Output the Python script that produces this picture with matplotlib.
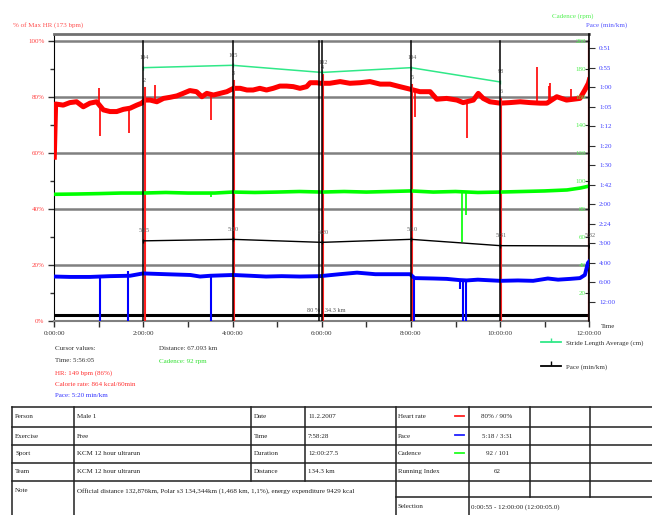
'''Polar style exercise chart: HR, pace, cadence and lap averages
'''
import matplotlib
matplotlib.use('Agg')
import matplotlib.pyplot as plt
from matplotlib import font_manager

# ---- data ----
# heart rate trace, hours / % of max HR
hr_t = [0.00, 0.03, 0.20, 0.35, 0.50, 0.65, 0.80, 0.95, 1.10, 1.25, 1.40, 1.55, 1.70, 1.85,
        1.96, 2.03, 2.15, 2.30, 2.45, 2.60, 2.75, 2.89, 3.04, 3.19, 3.31, 3.42, 3.57, 3.72,
        3.87, 4.02, 4.17, 4.32, 4.46, 4.61, 4.76, 4.91, 5.06, 5.21, 5.36, 5.51, 5.66, 5.74,
        5.89, 5.96, 6.18, 6.41, 6.63, 6.86, 7.08, 7.31, 7.53, 7.75, 7.98, 8.20, 8.43, 8.58,
        8.80, 9.03, 9.17, 9.40, 9.51, 9.62, 9.77, 10.00, 10.22, 10.45, 10.67, 10.90, 11.05,
        11.27, 11.49, 11.64, 11.79, 11.90, 11.98, 12.00]
hr_pct = [58.5, 77.5, 77.1, 78.0, 78.3, 76.5, 77.8, 78.3, 75.4, 74.8, 74.8, 75.6, 76.0, 77.1,
          77.8, 78.9, 78.9, 78.3, 79.5, 79.9, 80.4, 81.3, 82.3, 81.9, 80.1, 81.3, 80.7, 81.3,
          81.9, 83.1, 83.1, 82.5, 82.5, 83.1, 82.5, 83.1, 83.9, 83.9, 83.7, 83.1, 83.7, 85.1,
          85.1, 84.9, 84.9, 85.5, 84.9, 85.1, 85.5, 84.6, 84.6, 83.7, 82.8, 81.9, 81.9, 79.2,
          79.5, 78.9, 78.0, 78.9, 81.3, 79.5, 78.3, 77.8, 78.0, 78.3, 78.0, 77.8, 77.8,
          80.1, 78.9, 79.2, 79.5, 82.5, 84.9, 86.1]
# single-sample spikes on the HR trace: time, level they leave from, level they reach
hr_spike_t = [1.00, 1.02, 1.67, 2.26, 3.51, 8.09, 9.25, 10.82, 11.10, 11.12, 11.60]
hr_spike_from = [78.0, 77.0, 75.8, 79.0, 81.0, 82.5, 78.2, 78.0, 77.8, 77.9, 79.0]
hr_spike_to = [83.1, 66.1, 67.3, 84.3, 71.8, 73.0, 65.3, 90.8, 84.0, 85.0, 83.0]

# cadence, hours / rpm
cad_t = [0.0, 0.5, 1.0, 1.5, 2.0, 2.5, 3.0, 3.45, 3.6, 4.0, 4.5, 5.0, 5.5, 6.0, 6.5, 7.0,
         7.5, 8.0, 8.5, 9.0, 9.5, 10.0, 10.5, 11.0, 11.5, 11.8, 12.0]
cad_rpm = [90.5, 90.7, 91.0, 91.4, 91.4, 91.8, 91.4, 91.4, 91.4, 92.1, 91.8, 92.1, 92.5,
           92.1, 92.5, 92.1, 92.5, 92.9, 92.1, 92.5, 91.8, 92.1, 92.5, 92.9, 93.6, 95.0, 96.4]
cad_spike_t = [3.52, 9.14, 9.24]
cad_spike_from = [91.4, 92.1, 92.1]
cad_spike_to = [88.5, 56.5, 76.0]

# speed behind the pace trace, hours / km/h
sp_t = [0.0, 0.35, 0.8, 1.25, 1.70, 1.99, 2.5, 3.05, 3.27, 3.50, 4.01, 4.4, 4.75, 5.1, 5.51,
        5.96, 6.4, 6.79, 7.2, 7.53, 7.98, 8.08, 8.5, 8.8, 9.08, 9.25, 9.5, 10.0, 10.4, 10.74,
        11.07, 11.3, 11.57, 11.79, 11.9, 11.97, 12.0]
sp_kmh = [11.4, 11.3, 11.3, 11.5, 11.6, 12.2, 12.0, 11.8, 11.4, 11.6, 11.8, 11.6, 11.4, 11.5,
          11.4, 11.5, 12.0, 12.4, 12.0, 12.0, 12.0, 11.0, 10.9, 10.8, 10.5, 10.4, 10.6, 10.3,
          10.4, 10.3, 10.9, 10.6, 10.8, 11.0, 11.8, 14.9, 15.3]
sp_spike_t = [1.025, 1.645, 1.66, 3.515, 8.06, 9.10, 9.17, 9.235]
sp_spike_from = [11.3, 11.5, 11.5, 11.6, 11.2, 10.5, 10.5, 10.4]
sp_spike_to = [0.0, 0.0, 12.9, 0.0, 0.0, 8.2, 0.0, 0.0]

# laps
lap_t = [2.0, 4.0, 6.0, 8.0, 10.0]
lap_no = ['2', '3', '4', '5', '6']
lap_marker_pct = [83.2, 85.7, 87.9, 84.3, 79.3]
stride_cm = [104, 105, 102, 104, 98]
lap_pace_t = [2.0, 4.0, 6.0, 8.0, 10.0, 12.0]
lap_pace_s = [315, 310, 320, 310, 331, 332]
cursor_t = 5 + 56 / 60 + 5 / 3600

hr_ticks = [0, 20, 40, 60, 80, 100]
cad_ticks = [20, 40, 60, 80, 100, 120, 140, 160, 180, 200]
speed_ticks = [5, 10, 15, 20, 25, 30, 35, 40, 45, 50, 55, 60, 65, 70]
time_ticks = [0, 2, 4, 6, 8, 10, 12]

cursor_left = ['Cursor values:', 'Time: 5:56:05', 'HR: 149 bpm (86%)',
               'Calorie rate: 864 kcal/60min', 'Pace: 5:20 min/km']
cursor_left_col = ['#303030', '#303030', '#ff3030', '#ff3030', '#3030ff']
cursor_right = ['Distance: 67.093 km', 'Cadence: 92 rpm']
cursor_right_col = ['#303030', '#30e030']

tbl_a = ['Person', 'Exercise', 'Sport', 'Team']
tbl_b = ['Male 1', 'Free', 'KCM 12 hour ultrarun', 'KCM 12 hour ultrarun']
tbl_c = ['Date', 'Time', 'Duration', 'Distance']
tbl_d = ['11.2.2007', '7:58:28', '12:00:27.5', '134.3 km']
tbl_e = ['Heart rate', 'Pace', 'Cadence', 'Running Index']
tbl_f = ['80% / 90%', '5:18 / 3:31', '92 / 101', '62']
tbl_dash = ['#ff2020', '#2020ff', '#20ff20', None]
note_text = ('Official distance 132,876km, Polar s3 134,344km (1,468 km, 1,1%), '
             'energy expenditure 9429 kcal')
selection_text = '0:00:55 - 12:00:00 (12:00:05.0)'

# ---- style ----
names = {f.name for f in font_manager.fontManager.ttflist}
FONT = 'Liberation Sans Narrow' if 'Liberation Sans Narrow' in names else 'Liberation Serif'
plt.rcParams['font.family'] = FONT
FS = 5.0
W, H = 652, 515
X0, X1, YB, YT = 54.3, 589.3, 321, 34
HR_TOP = 102.5
SP_TOP = 287 / 3.9

fig = plt.figure(figsize=(W / 100, H / 100), dpi=100)
ov = fig.add_axes([0, 0, 1, 1])
ov.set_xlim(0, W)
ov.set_ylim(H, 0)
ov.axis('off')

ax = fig.add_axes([X0 / W, 1 - YB / H, (X1 - X0) / W, (YB - YT) / H])
ax.patch.set_alpha(0)
ax.set_xlim(0, 12)
ax.set_ylim(0, HR_TOP)
for v in hr_ticks[1:]:
    ax.axhline(v, color='#808080', lw=1.8, zorder=1)
ax.axhline(2.0, color='black', lw=2.2, zorder=2)
ax.spines['top'].set_color('#707070')
ax.spines['top'].set_linewidth(2)
ax.spines['bottom'].set_color('#808080')
ax.spines['bottom'].set_linewidth(1.5)
ax.spines['left'].set_color('black')
ax.spines['right'].set_visible(False)
ax.set_yticks(hr_ticks)
ax.set_yticklabels(['%d%%' % v for v in hr_ticks], color='#ff4040', fontsize=FS)
ax.set_yticks(range(10, 100, 20), minor=True)
ax.set_xticks(time_ticks)
ax.set_xticklabels(['%d:00:00' % v for v in time_ticks], color='#303030', fontsize=FS)
ax.set_xticks(range(1, 12, 2), minor=True)
ax.tick_params(which='both', direction='out', length=4, width=1, color='#303030', pad=3)
ax.tick_params(axis='y', which='minor', length=3)
ax.plot(hr_t, hr_pct, color='#ff0000', lw=3.6, zorder=4)
ax.vlines(hr_spike_t, hr_spike_from, hr_spike_to, color='#ff0000', lw=1.2, zorder=4)
for t, p in zip(lap_t, lap_marker_pct):
    ax.plot([t + 0.03, t + 0.03], [0, p], color='#ff2020', lw=1.5, zorder=5)
ax.plot([12, 12], [0, 100], color='#c02020', lw=1.6, zorder=5)
ax.text(5.66, 3.9, '80 % 134.3 km', color='#505050', fontsize=4.5, va='center', ha='left')

# cadence
ax_cad = ax.twinx()
ax_cad.set_ylim(0, 205)
ax_cad.plot(cad_t, cad_rpm, color='#00ff00', lw=2.6, zorder=3)
ax_cad.vlines(cad_spike_t, cad_spike_from, cad_spike_to, color='#00ff00', lw=1.2, zorder=3)
ax_cad.set_yticks(cad_ticks)
ax_cad.tick_params(axis='y', direction='in', length=3, color='#303030', labelright=False)
for v in cad_ticks:
    ax_cad.text(0.994, v, str(v), transform=ax_cad.get_yaxis_transform(),
                ha='right', va='center', color='#50f050', fontsize=FS)
for s in ax_cad.spines.values():
    s.set_visible(False)

# pace axis (linear in speed)
ax_sp = ax.twinx()
ax_sp.set_ylim(0, SP_TOP)
ax_sp.plot(sp_t, sp_kmh, color='#0000ff', lw=2.8, zorder=3)
ax_sp.vlines(sp_spike_t, sp_spike_from, sp_spike_to, color='#0000ff', lw=1.5, zorder=3)
pace_lbl = []
for s in speed_ticks:
    sec = 3600.0 / s
    pace_lbl.append('%d:%02d' % (int(sec // 60), int(sec - 60 * int(sec // 60))))
ax_sp.set_yticks(speed_ticks)
ax_sp.set_yticklabels(pace_lbl, color='#4040ff', fontsize=FS)
ax_sp.tick_params(axis='y', direction='out', length=4, color='#303030', pad=3)
for k in ['top', 'bottom', 'left']:
    ax_sp.spines[k].set_visible(False)
ax_sp.spines['right'].set_color('black')
ax_sp.spines['right'].set_linewidth(1.2)

# stride length average per lap
ax_st = ax.twinx()
ax_st.set_ylim(-2.44, 118.15)
ax_st.axis('off')
ax_st.plot(lap_t, stride_cm, color='#30e888', lw=1.1, marker='|', ms=3, zorder=6)
for t, v in zip(lap_t, stride_cm):
    ax_st.annotate(str(v), (t, v), xytext=(1, 10), textcoords='offset pixels',
                   ha='center', va='center', color='#606060', fontsize=4.5)

# lap pace
ax_lp = ax.twinx()
ax_lp.set_ylim(582, -374)
ax_lp.axis('off')
for t in lap_t + [cursor_t]:
    ax_lp.axvline(t, ymin=0, ymax=100 / HR_TOP, color='black', lw=1.1, zorder=2)
ax_lp.plot(lap_pace_t, lap_pace_s, color='black', lw=1.0, marker='|', ms=3, zorder=6)
for t, v in zip(lap_pace_t, lap_pace_s):
    ax_lp.annotate('%d:%02d' % (v // 60, v % 60), (t, v), xytext=(1, 10),
                   textcoords='offset pixels', ha='center', va='center',
                   color='#606060', fontsize=4.5)
for t, n, p in zip(lap_t, lap_no, lap_marker_pct):
    ax.annotate(n, (t, p), xytext=(1, 5), textcoords='offset pixels', ha='center',
                va='bottom', color='#606060', fontsize=4.5)

# ---- labels around the plot ----
ov.text(48, 25, '% of Max HR (173 bpm)', color='#ff5050', fontsize=FS, ha='center', va='center')
ov.text(573, 16, 'Cadence (rpm)', color='#50f050', fontsize=FS, ha='center', va='center')
ov.text(607, 25, 'Pace (min/km)', color='#5050ff', fontsize=FS, ha='center', va='center')
ov.text(601, 326, 'Time', color='#303030', fontsize=FS, ha='left', va='center')

for i, (s, c) in enumerate(zip(cursor_left, cursor_left_col)):
    ov.text(55, 348 + [0, 13, 24.7, 36, 47.7][i], s, color=c, fontsize=FS, va='center')
for i, (s, c) in enumerate(zip(cursor_right, cursor_right_col)):
    ov.text(159, 348 + 13 * i, s, color=c, fontsize=FS, va='center')

ov.plot([541, 561], [342, 342], color='#30e888', lw=1.3)
ov.plot([551], [340], marker='|', color='#30e888', ms=3)
ov.text(566, 343, 'Stride Length Average (cm)', color='#303030', fontsize=FS, va='center')
ov.plot([541, 561], [366, 366], color='black', lw=1.3)
ov.plot([551], [363], marker='|', color='black', ms=3)
ov.text(566, 367, 'Pace (min/km)', color='#303030', fontsize=FS, va='center')

# ---- info table ----
lc = '#202020'
rows = [407, 427, 445, 462.5, 480.5]
for y in rows:
    ov.plot([12, 652], [y, y], color=lc, lw=1.1)
ov.plot([395.5, 652], [497, 497], color=lc, lw=1.1)
for x in [12, 74, 395.5, 468.5]:
    ov.plot([x, x], [407, 515], color=lc, lw=1.1)
for x in [250.5, 304.5]:
    ov.plot([x, x], [407, 480.5], color=lc, lw=1.1)
for x in [529.5, 590]:
    ov.plot([x, x], [407, 497], color=lc, lw=1.1)

for i in range(4):
    yc = (rows[i] + rows[i + 1]) / 2
    ov.text(15, yc, tbl_a[i], fontsize=FS, va='center', color=lc)
    ov.text(77, yc, tbl_b[i], fontsize=FS, va='center', color=lc)
    ov.text(254, yc, tbl_c[i], fontsize=FS, va='center', color=lc)
    ov.text(308, yc, tbl_d[i], fontsize=FS, va='center', color=lc)
    ov.text(398, yc, tbl_e[i], fontsize=FS, va='center', color=lc)
    ov.text(497, yc, tbl_f[i], fontsize=FS, va='center', ha='center', color=lc)
    if tbl_dash[i]:
        ov.plot([455, 464], [yc - 1, yc - 1], color=tbl_dash[i], lw=1.3)
ov.text(15, 491, 'Note', fontsize=FS, va='center', color=lc)
ov.text(77, 491, note_text, fontsize=FS, va='center', color=lc)
ov.text(398, 507, 'Selection', fontsize=FS, va='center', color=lc)
ov.text(471, 507, selection_text, fontsize=FS, va='center', color=lc)

fig.savefig('out.png', dpi=100)
